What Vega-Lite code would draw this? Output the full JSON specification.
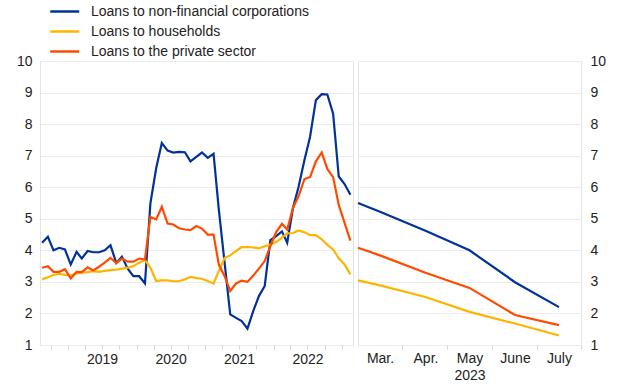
{
  "$schema": "https://vega.github.io/schema/vega-lite/v6.json",
  "padding": {"left": 15, "top": 3, "right": 0, "bottom": 0},
  "spacing": 5,
  "bounds": "flush",
  "config": {
    "font": "Liberation Sans",
    "view": {"stroke": "#e3e3e3", "strokeWidth": 1},
    "axis": {"labelFontSize": 14, "labelColor": "#222222", "titleFontSize": 14, "titleFontWeight": "normal", "titleColor": "#222222"},
    "concat": {"spacing": 5}
  },
  "datasets": {
    "left": [
      {"d":"2018-08-15","s":"nfc","v":4.24},{"d":"2018-09-15","s":"nfc","v":4.43},{"d":"2018-10-15","s":"nfc","v":4.0},{"d":"2018-11-15","s":"nfc","v":4.08},{"d":"2018-12-15","s":"nfc","v":4.03},
      {"d":"2019-01-15","s":"nfc","v":3.55},{"d":"2019-02-15","s":"nfc","v":3.95},{"d":"2019-03-15","s":"nfc","v":3.74},{"d":"2019-04-15","s":"nfc","v":3.98},{"d":"2019-05-15","s":"nfc","v":3.94},{"d":"2019-06-15","s":"nfc","v":3.94},{"d":"2019-07-15","s":"nfc","v":4.0},{"d":"2019-08-15","s":"nfc","v":4.16},{"d":"2019-09-15","s":"nfc","v":3.6},{"d":"2019-10-15","s":"nfc","v":3.8},{"d":"2019-11-15","s":"nfc","v":3.42},{"d":"2019-12-15","s":"nfc","v":3.18},
      {"d":"2020-01-15","s":"nfc","v":3.18},{"d":"2020-02-15","s":"nfc","v":2.95},{"d":"2020-03-15","s":"nfc","v":5.49},{"d":"2020-04-15","s":"nfc","v":6.61},{"d":"2020-05-15","s":"nfc","v":7.4},{"d":"2020-06-15","s":"nfc","v":7.16},{"d":"2020-07-15","s":"nfc","v":7.1},{"d":"2020-08-15","s":"nfc","v":7.12},{"d":"2020-09-15","s":"nfc","v":7.11},{"d":"2020-10-15","s":"nfc","v":6.82},{"d":"2020-11-15","s":"nfc","v":6.96},{"d":"2020-12-15","s":"nfc","v":7.1},
      {"d":"2021-01-15","s":"nfc","v":6.93},{"d":"2021-02-15","s":"nfc","v":7.06},{"d":"2021-03-15","s":"nfc","v":5.3},{"d":"2021-04-15","s":"nfc","v":3.6},{"d":"2021-05-15","s":"nfc","v":1.97},{"d":"2021-06-15","s":"nfc","v":1.86},{"d":"2021-07-15","s":"nfc","v":1.76},{"d":"2021-08-15","s":"nfc","v":1.52},{"d":"2021-09-15","s":"nfc","v":2.08},{"d":"2021-10-15","s":"nfc","v":2.55},{"d":"2021-11-15","s":"nfc","v":2.87},{"d":"2021-12-15","s":"nfc","v":4.32},
      {"d":"2022-01-15","s":"nfc","v":4.45},{"d":"2022-02-15","s":"nfc","v":4.6},{"d":"2022-03-15","s":"nfc","v":4.24},{"d":"2022-04-15","s":"nfc","v":5.35},{"d":"2022-05-15","s":"nfc","v":6.02},{"d":"2022-06-15","s":"nfc","v":6.86},{"d":"2022-07-15","s":"nfc","v":7.6},{"d":"2022-08-15","s":"nfc","v":8.76},{"d":"2022-09-15","s":"nfc","v":8.95},{"d":"2022-10-15","s":"nfc","v":8.94},{"d":"2022-11-15","s":"nfc","v":8.33},{"d":"2022-12-15","s":"nfc","v":6.34},
      {"d":"2023-01-15","s":"nfc","v":6.1},{"d":"2023-02-15","s":"nfc","v":5.76},

      {"d":"2018-08-15","s":"hh","v":3.08},{"d":"2018-09-15","s":"hh","v":3.15},{"d":"2018-10-15","s":"hh","v":3.22},{"d":"2018-11-15","s":"hh","v":3.26},{"d":"2018-12-15","s":"hh","v":3.22},
      {"d":"2019-01-15","s":"hh","v":3.2},{"d":"2019-02-15","s":"hh","v":3.27},{"d":"2019-03-15","s":"hh","v":3.29},{"d":"2019-04-15","s":"hh","v":3.31},{"d":"2019-05-15","s":"hh","v":3.34},{"d":"2019-06-15","s":"hh","v":3.32},{"d":"2019-07-15","s":"hh","v":3.35},{"d":"2019-08-15","s":"hh","v":3.37},{"d":"2019-09-15","s":"hh","v":3.39},{"d":"2019-10-15","s":"hh","v":3.42},{"d":"2019-11-15","s":"hh","v":3.45},{"d":"2019-12-15","s":"hh","v":3.5},
      {"d":"2020-01-15","s":"hh","v":3.61},{"d":"2020-02-15","s":"hh","v":3.7},{"d":"2020-03-15","s":"hh","v":3.45},{"d":"2020-04-15","s":"hh","v":3.03},{"d":"2020-05-15","s":"hh","v":3.05},{"d":"2020-06-15","s":"hh","v":3.05},{"d":"2020-07-15","s":"hh","v":3.02},{"d":"2020-08-15","s":"hh","v":3.02},{"d":"2020-09-15","s":"hh","v":3.08},{"d":"2020-10-15","s":"hh","v":3.16},{"d":"2020-11-15","s":"hh","v":3.12},{"d":"2020-12-15","s":"hh","v":3.1},
      {"d":"2021-01-15","s":"hh","v":3.03},{"d":"2021-02-15","s":"hh","v":2.95},{"d":"2021-03-15","s":"hh","v":3.34},{"d":"2021-04-15","s":"hh","v":3.76},{"d":"2021-05-15","s":"hh","v":3.84},{"d":"2021-06-15","s":"hh","v":3.98},{"d":"2021-07-15","s":"hh","v":4.1},{"d":"2021-08-15","s":"hh","v":4.11},{"d":"2021-09-15","s":"hh","v":4.09},{"d":"2021-10-15","s":"hh","v":4.06},{"d":"2021-11-15","s":"hh","v":4.13},{"d":"2021-12-15","s":"hh","v":4.18},
      {"d":"2022-01-15","s":"hh","v":4.26},{"d":"2022-02-15","s":"hh","v":4.4},{"d":"2022-03-15","s":"hh","v":4.54},{"d":"2022-04-15","s":"hh","v":4.55},{"d":"2022-05-15","s":"hh","v":4.63},{"d":"2022-06-15","s":"hh","v":4.57},{"d":"2022-07-15","s":"hh","v":4.48},{"d":"2022-08-15","s":"hh","v":4.48},{"d":"2022-09-15","s":"hh","v":4.35},{"d":"2022-10-15","s":"hh","v":4.17},{"d":"2022-11-15","s":"hh","v":4.03},{"d":"2022-12-15","s":"hh","v":3.75},
      {"d":"2023-01-15","s":"hh","v":3.55},{"d":"2023-02-15","s":"hh","v":3.24},

      {"d":"2018-08-15","s":"ps","v":3.45},{"d":"2018-09-15","s":"ps","v":3.5},{"d":"2018-10-15","s":"ps","v":3.32},{"d":"2018-11-15","s":"ps","v":3.32},{"d":"2018-12-15","s":"ps","v":3.4},
      {"d":"2019-01-15","s":"ps","v":3.11},{"d":"2019-02-15","s":"ps","v":3.32},{"d":"2019-03-15","s":"ps","v":3.31},{"d":"2019-04-15","s":"ps","v":3.46},{"d":"2019-05-15","s":"ps","v":3.36},{"d":"2019-06-15","s":"ps","v":3.48},{"d":"2019-07-15","s":"ps","v":3.61},{"d":"2019-08-15","s":"ps","v":3.76},{"d":"2019-09-15","s":"ps","v":3.6},{"d":"2019-10-15","s":"ps","v":3.74},{"d":"2019-11-15","s":"ps","v":3.64},{"d":"2019-12-15","s":"ps","v":3.64},
      {"d":"2020-01-15","s":"ps","v":3.74},{"d":"2020-02-15","s":"ps","v":3.71},{"d":"2020-03-15","s":"ps","v":5.06},{"d":"2020-04-15","s":"ps","v":4.98},{"d":"2020-05-15","s":"ps","v":5.38},{"d":"2020-06-15","s":"ps","v":4.85},{"d":"2020-07-15","s":"ps","v":4.82},{"d":"2020-08-15","s":"ps","v":4.7},{"d":"2020-09-15","s":"ps","v":4.66},{"d":"2020-10-15","s":"ps","v":4.64},{"d":"2020-11-15","s":"ps","v":4.77},{"d":"2020-12-15","s":"ps","v":4.69},
      {"d":"2021-01-15","s":"ps","v":4.5},{"d":"2021-02-15","s":"ps","v":4.5},{"d":"2021-03-15","s":"ps","v":3.55},{"d":"2021-04-15","s":"ps","v":3.18},{"d":"2021-05-15","s":"ps","v":2.71},{"d":"2021-06-15","s":"ps","v":2.95},{"d":"2021-07-15","s":"ps","v":3.04},{"d":"2021-08-15","s":"ps","v":3.0},{"d":"2021-09-15","s":"ps","v":3.2},{"d":"2021-10-15","s":"ps","v":3.42},{"d":"2021-11-15","s":"ps","v":3.66},{"d":"2021-12-15","s":"ps","v":4.13},
      {"d":"2022-01-15","s":"ps","v":4.58},{"d":"2022-02-15","s":"ps","v":4.84},{"d":"2022-03-15","s":"ps","v":4.66},{"d":"2022-04-15","s":"ps","v":5.35},{"d":"2022-05-15","s":"ps","v":5.72},{"d":"2022-06-15","s":"ps","v":6.26},{"d":"2022-07-15","s":"ps","v":6.32},{"d":"2022-08-15","s":"ps","v":6.82},{"d":"2022-09-15","s":"ps","v":7.1},{"d":"2022-10-15","s":"ps","v":6.58},{"d":"2022-11-15","s":"ps","v":6.32},{"d":"2022-12-15","s":"ps","v":5.44},
      {"d":"2023-01-15","s":"ps","v":4.87},{"d":"2023-02-15","s":"ps","v":4.31}
    ],
    "right": [
      {"d":"2023-02-14","s":"nfc","v":5.5},{"d":"2023-03-01","s":"nfc","v":5.22},{"d":"2023-04-01","s":"nfc","v":4.62},{"d":"2023-05-01","s":"nfc","v":4.0},{"d":"2023-06-01","s":"nfc","v":2.99},{"d":"2023-07-01","s":"nfc","v":2.2},
      {"d":"2023-02-14","s":"hh","v":3.05},{"d":"2023-03-01","s":"hh","v":2.89},{"d":"2023-04-01","s":"hh","v":2.52},{"d":"2023-05-01","s":"hh","v":2.05},{"d":"2023-06-01","s":"hh","v":1.68},{"d":"2023-07-01","s":"hh","v":1.3},
      {"d":"2023-02-14","s":"ps","v":4.08},{"d":"2023-03-01","s":"ps","v":3.84},{"d":"2023-04-01","s":"ps","v":3.29},{"d":"2023-05-01","s":"ps","v":2.81},{"d":"2023-06-01","s":"ps","v":1.95},{"d":"2023-07-01","s":"ps","v":1.63}
    ]
  },
  "hconcat": [
    {
      "width": 313,
      "height": 284,
      "data": {"name": "left"},
      "mark": {"type": "line", "strokeWidth": 2.2, "clip": true},
      "encoding": {
        "x": {
          "field": "d", "type": "temporal", "title": null,
          "scale": {"type": "utc", "domain": [{"year": 2018, "month": 8, "date": 4, "utc": true}, {"year": 2023, "month": 3, "date": 1, "utc": true}]},
          "axis": {
            "values": [
              {"year": 2018, "month": 10, "date": 1, "utc": true},
              {"year": 2019, "month": 1, "date": 1, "utc": true}, {"year": 2019, "month": 4, "date": 1, "utc": true}, {"year": 2019, "month": 7, "date": 1, "utc": true}, {"year": 2019, "month": 10, "date": 1, "utc": true},
              {"year": 2020, "month": 1, "date": 1, "utc": true}, {"year": 2020, "month": 4, "date": 1, "utc": true}, {"year": 2020, "month": 7, "date": 1, "utc": true}, {"year": 2020, "month": 10, "date": 1, "utc": true},
              {"year": 2021, "month": 1, "date": 1, "utc": true}, {"year": 2021, "month": 4, "date": 1, "utc": true}, {"year": 2021, "month": 7, "date": 1, "utc": true}, {"year": 2021, "month": 10, "date": 1, "utc": true},
              {"year": 2022, "month": 1, "date": 1, "utc": true}, {"year": 2022, "month": 4, "date": 1, "utc": true}, {"year": 2022, "month": 7, "date": 1, "utc": true}, {"year": 2022, "month": 10, "date": 1, "utc": true},
              {"year": 2023, "month": 1, "date": 1, "utc": true}
            ],
            "labelExpr": "utcmonth(datum.value) == 6 ? utcyear(datum.value) + '' : ''",
            "grid": false, "domain": false, "tickColor": "#d6d6d6", "tickSize": 4, "labelPadding": 3, "labelFlush": false, "labelOverlap": false
          }
        },
        "y": {
          "field": "v", "type": "quantitative", "title": null,
          "scale": {"domain": [1, 10], "nice": false, "zero": false},
          "axis": {"values": [1,2,3,4,5,6,7,8,9,10], "grid": true, "gridColor": "#ececec", "ticks": false, "domain": false, "labelPadding": 8}
        },
        "color": {
          "field": "s", "type": "nominal",
          "scale": {"domain": ["nfc", "hh", "ps"], "range": ["#003299", "#ffb400", "#ff4b00"]},
          "legend": {
            "title": null, "orient": "none", "legendX": 9, "legendY": -58, "direction": "vertical", "padding": 0,
            "symbolType": "M-1,0H3", "symbolSize": 210, "symbolStrokeWidth": 2.5, "labelFontSize": 14, "labelColor": "#222222", "labelOffset": 25, "rowPadding": 4, "labelLimit": 0,
            "labelExpr": "datum.value == 'nfc' ? 'Loans to non-financial corporations' : datum.value == 'hh' ? 'Loans to households' : 'Loans to the private sector'"
          }
        }
      }
    },
    {
      "width": 223,
      "height": 284,
      "data": {"name": "right"},
      "mark": {"type": "line", "strokeWidth": 2.2},
      "encoding": {
        "x": {
          "field": "d", "type": "temporal", "title": "2023",
          "scale": {"type": "utc", "domain": [{"year": 2023, "month": 2, "date": 14, "utc": true}, {"year": 2023, "month": 7, "date": 16, "utc": true}]},
          "axis": {
            "values": [
              {"year": 2023, "month": 3, "date": 1, "utc": true}, {"year": 2023, "month": 4, "date": 1, "utc": true}, {"year": 2023, "month": 5, "date": 1, "utc": true}, {"year": 2023, "month": 6, "date": 1, "utc": true}, {"year": 2023, "month": 7, "date": 1, "utc": true}
            ],
            "labelExpr": "['Jan.','Feb.','Mar.','Apr.','May','June','July','Aug.'][utcmonth(datum.value)]",
            "grid": false, "domain": false, "tickColor": "#d6d6d6", "tickSize": 4, "tickOffset": 22, "labelOffset": -22, "labelPadding": 2, "labelFlush": false, "labelOverlap": false, "titlePadding": 3
          }
        },
        "y": {
          "field": "v", "type": "quantitative", "title": null,
          "scale": {"domain": [1, 10], "nice": false, "zero": false},
          "axis": {"orient": "right", "values": [1,2,3,4,5,6,7,8,9,10], "grid": true, "gridColor": "#ececec", "ticks": false, "domain": false, "labelPadding": 9}
        },
        "color": {
          "field": "s", "type": "nominal",
          "scale": {"domain": ["nfc", "hh", "ps"], "range": ["#003299", "#ffb400", "#ff4b00"]},
          "legend": null
        }
      }
    }
  ]
}
